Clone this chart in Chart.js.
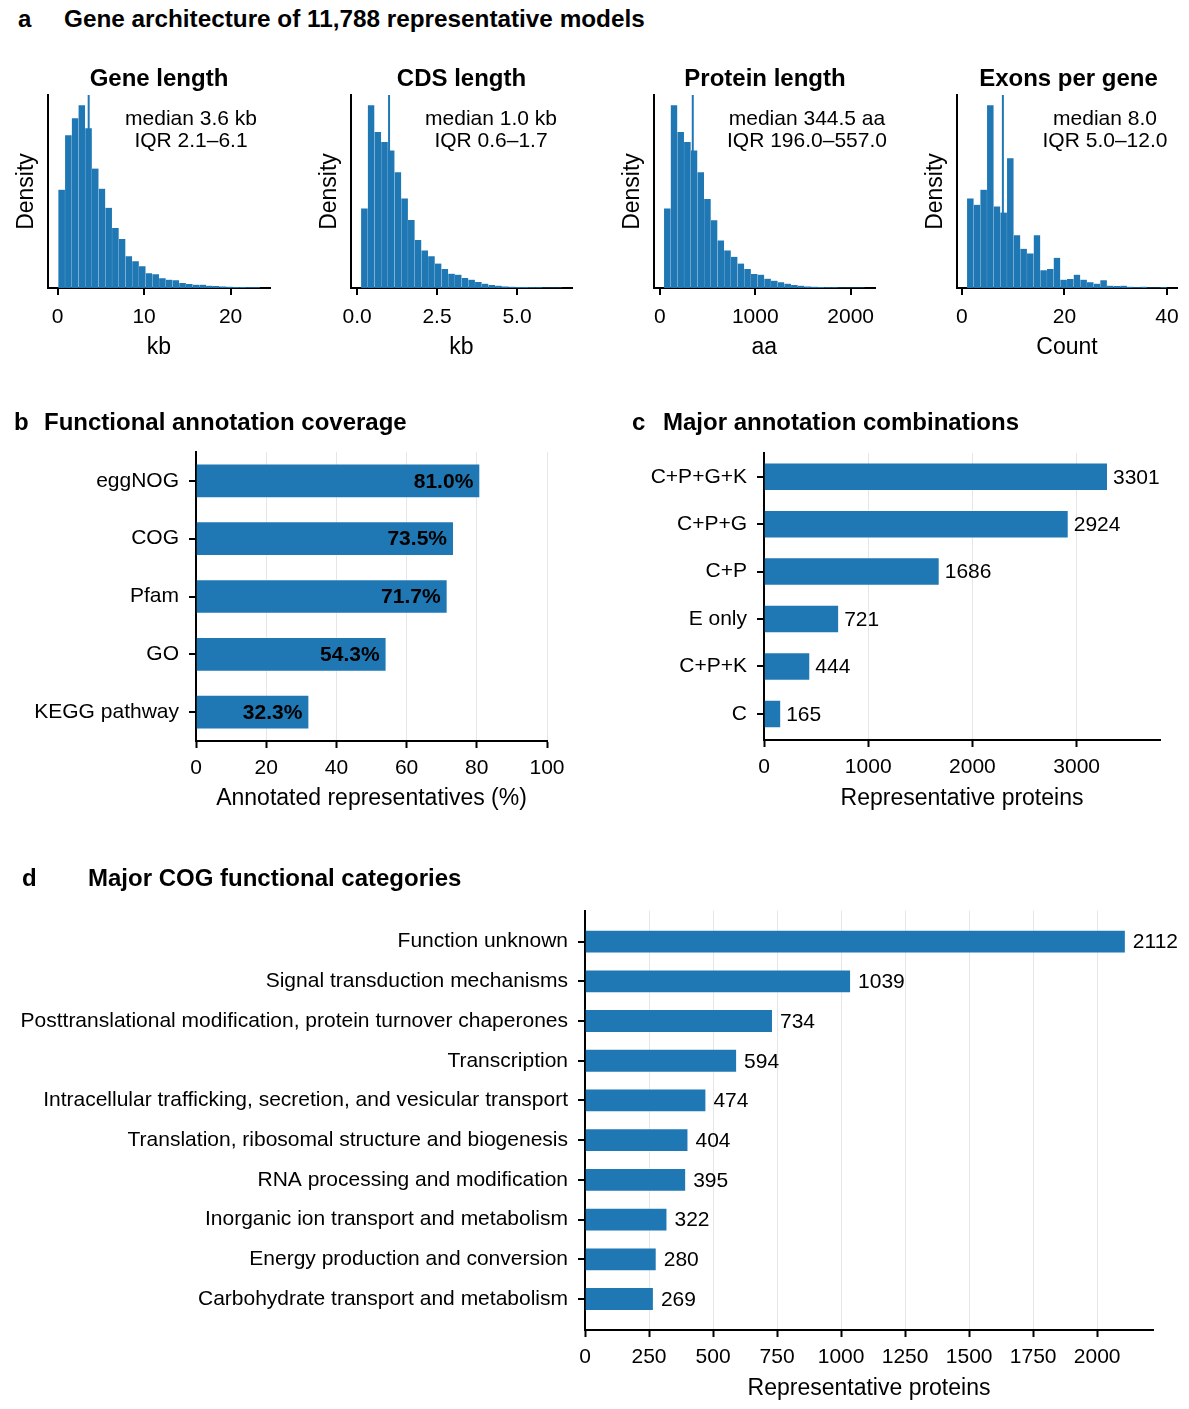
<!DOCTYPE html>
<html>
<head>
<meta charset="utf-8">
<script src="https://cdn.jsdelivr.net/npm/chart.js"></script>
<style>
body { margin: 0; background: #fff; }
#fig { position: relative; width: 1189px; height: 1409px; overflow: hidden; background: #fff;
       font-family: 'Liberation Sans', Arial, Helvetica, sans-serif; color: #000; }
#fig canvas { position: absolute; }
.t { position: absolute; white-space: nowrap; z-index: 2; }
.head { font-weight: bold; font-size: 24px; line-height: 28px; }
.note { font-size: 21px; line-height: 22px; text-align: center; width: 240px; }
</style>
</head>
<body>
<div id="fig">
  <div class="t head" style="left:18px;top:5px">a</div>
  <div class="t head" style="left:64px;top:5px;font-size:24.3px">Gene architecture of 11,788 representative models</div>
  <div class="t head" style="left:14px;top:408px">b</div>
  <div class="t head" style="left:44px;top:408px">Functional annotation coverage</div>
  <div class="t head" style="left:632px;top:408px">c</div>
  <div class="t head" style="left:663px;top:408px">Major annotation combinations</div>
  <div class="t head" style="left:22px;top:864px">d</div>
  <div class="t head" style="left:88px;top:864px">Major COG functional categories</div>
</div>
<script>
// ---- panel a: histograms (relative bar heights) ----
const geneBinStart = 0.09, geneBinWidth = 0.776;
const geneDensity = [293, 455, 506, 545, 476, 356, 296, 239, 179, 146, 95, 80, 65, 44, 41,
                     29, 25, 23, 15, 12, 10, 10, 7, 6, 5, 4, 3, 3, 2, 2];
const geneMedian = 3.6, geneIQR = [2.1, 6.1];
const geneTicks = [0, 10, 20];
const geneTickLabels = ['0', '10', '20'];

const cdsBinStart = 0.124, cdsBinWidth = 0.2096;
const cdsDensity = [237, 545, 465, 435, 410, 345, 267, 203, 143, 112, 95, 73, 57, 43, 40,
                    30, 25, 18, 13, 9, 7, 5, 4, 3, 3, 2, 2, 1, 1, 1];
const cdsMedian = 1.0, cdsIQR = [0.6, 1.7];
const cdsTicks = [0, 2.5, 5];
const cdsTickLabels = ['0.0', '2.5', '5.0'];

const protBinStart = 42.6, protBinWidth = 70.1;
const protDensity = [237, 545, 465, 435, 410, 345, 265, 202, 142, 112, 93, 73, 57, 42, 40,
                     28, 22, 17, 13, 9, 7, 5, 4, 3, 2, 2, 1, 1, 1, 1];
const protMedian = 344.5, protIQR = [196.0, 557.0];
const protTicks = [0, 1000, 2000];
const protTickLabels = ['0', '1000', '2000'];

const exonBinStart = 1, exonBinWidth = 1.3;
const exonDensity = [267, 248, 293, 545, 243, 225, 387, 157, 117, 103, 157, 53, 57, 90, 25,
                     27, 40, 25, 17, 13, 23, 7, 6, 7, 4, 2, 4, 1, 1, 2];
const exonMedian = 8.0, exonIQR = [5.0, 12.0];
const exonTicks = [0, 20, 40];
const exonTickLabels = ['0', '20', '40'];

// ---- panel b ----
const coverageCats = ['eggNOG', 'COG', 'Pfam', 'GO', 'KEGG pathway'];
const coverageVals = [81.0, 73.5, 71.7, 54.3, 32.3];
const coverageTicks = [0, 20, 40, 60, 80, 100];

// ---- panel c ----
const comboCats = ['C+P+G+K', 'C+P+G', 'C+P', 'E only', 'C+P+K', 'C'];
const comboVals = [3301, 2924, 1686, 721, 444, 165];
const comboTicks = [0, 1000, 2000, 3000];

// ---- panel d ----
const cogCats = [
  'Function unknown',
  'Signal transduction mechanisms',
  'Posttranslational modification, protein turnover chaperones',
  'Transcription',
  'Intracellular trafficking, secretion, and vesicular transport',
  'Translation, ribosomal structure and biogenesis',
  'RNA processing and modification',
  'Inorganic ion transport and metabolism',
  'Energy production and conversion',
  'Carbohydrate transport and metabolism'
];
const cogVals = [2112, 1039, 734, 594, 474, 404, 395, 322, 280, 269];
const cogTicks = [0, 250, 500, 750, 1000, 1250, 1500, 1750, 2000];

const FONT = "'Liberation Sans', Arial, Helvetica, sans-serif";
const BLUE = '#1f77b4';
Chart.defaults.font.family = FONT;
Chart.defaults.font.size = 21;
Chart.defaults.color = '#000';

const fig = document.getElementById('fig');

function addCanvas(x, y, w, h) {
  const c = document.createElement('canvas');
  c.width = w; c.height = h;
  c.style.cssText = `left:${x}px;top:${y}px;width:${w}px;height:${h}px`;
  fig.appendChild(c);
  return c;
}

function addText(cls, html, x, y, extra) {
  const d = document.createElement('div');
  d.className = 't ' + cls;
  d.innerHTML = html;
  d.style.left = x + 'px';
  d.style.top = y + 'px';
  if (extra) Object.assign(d.style, extra);
  fig.appendChild(d);
}

// values next to / inside horizontal bars
const valueLabels = {
  id: 'valueLabels',
  afterDatasetsDraw(chart, args, opts) {
    if (!opts || !opts.show) return;
    const ctx = chart.ctx;
    const meta = chart.getDatasetMeta(0);
    const data = chart.data.datasets[0].data;
    ctx.save();
    ctx.font = (opts.bold ? 'bold ' : '') + '21px ' + FONT;
    ctx.fillStyle = '#000';
    ctx.textBaseline = 'middle';
    meta.data.forEach((bar, i) => {
      const txt = opts.format(data[i].x);
      if (opts.inside) {
        ctx.textAlign = 'right';
        ctx.fillText(txt, bar.x - opts.offset, bar.y + 1);
      } else {
        ctx.textAlign = 'left';
        ctx.fillText(txt, bar.x + opts.offset, bar.y + 1);
      }
    });
    ctx.restore();
  }
};
Chart.register(valueLabels);

// ---------- histograms ----------
const HIST_TOP = 95, HIST_BOTTOM = 288;
const histPanels = [
  { title: 'Gene length', xTitle: 'kb', unit: ' kb', start: geneBinStart, width: geneBinWidth,
    density: geneDensity, median: geneMedian, iqr: geneIQR, ticks: geneTicks, tickLabels: geneTickLabels,
    xMin: -1.1, xMax: 24.55, left: 48, right: 270, noteX: 191 },
  { title: 'CDS length', xTitle: 'kb', unit: ' kb', start: cdsBinStart, width: cdsBinWidth,
    density: cdsDensity, median: cdsMedian, iqr: cdsIQR, ticks: cdsTicks, tickLabels: cdsTickLabels,
    xMin: -0.19, xMax: 6.72, left: 351, right: 572, noteX: 491 },
  { title: 'Protein length', xTitle: 'aa', unit: ' aa', start: protBinStart, width: protBinWidth,
    density: protDensity, median: protMedian, iqr: protIQR, ticks: protTicks, tickLabels: protTickLabels,
    xMin: -62, xMax: 2250, left: 654, right: 876, noteX: 807 },
  { title: 'Exons per gene', xTitle: 'Count', unit: '', start: exonBinStart, width: exonBinWidth,
    density: exonDensity, median: exonMedian, iqr: exonIQR, ticks: exonTicks, tickLabels: exonTickLabels,
    xMin: -0.95, xMax: 41.95, left: 957, right: 1180, noteX: 1105 }
];

function drawHist(p) {
  const W = 48, PT = 10, PR = 9, H = 75;
  const canvas = addCanvas(p.left - W, HIST_TOP - PT, W + (p.right - p.left) + PR,
                           PT + (HIST_BOTTOM - HIST_TOP) + H);
  const yMax = Math.max(...p.density) * 1.055;

  new Chart(canvas, {
    type: 'bar',
    data: {
      datasets: [
        {
          type: 'line',
          data: [{ x: p.median, y: 0 }, { x: p.median, y: yMax }],
          borderColor: BLUE, borderWidth: 2, pointRadius: 0, order: 0
        },
        {
          data: p.density.map((d, i) => ({ x: p.start + (i + 0.5) * p.width, y: d })),
          backgroundColor: BLUE,
          borderColor: 'rgba(255,255,255,0.08)',
          borderWidth: 0.4,
          barPercentage: 1, categoryPercentage: 1, order: 1
        }
      ]
    },
    options: {
      responsive: false,
      animation: false,
      layout: { padding: { top: PT, right: PR, left: 0, bottom: 0 } },
      plugins: { legend: { display: false }, tooltip: { enabled: false } },
      scales: {
        x: {
          type: 'linear', min: p.xMin, max: p.xMax, offset: false,
          afterBuildTicks: s => { s.ticks = p.ticks.map(v => ({ value: v })); },
          afterFit: s => { s.height = H; },
          ticks: { callback: (v, i) => p.tickLabels[i], padding: 10, maxRotation: 0, autoSkip: false },
          grid: { display: true, offset: false, drawOnChartArea: false, color: '#000', lineWidth: 2, tickLength: 7 },
          border: { display: true, color: '#000', width: 2 },
          title: { display: true, text: p.xTitle, font: { size: 23 }, padding: { top: 0, bottom: 2 } }
        },
        y: {
          type: 'linear', min: 0, max: yMax,
          afterFit: s => { s.width = W; },
          ticks: { display: false },
          grid: { display: false },
          border: { display: true, color: '#000', width: 2 },
          title: { display: true, text: 'Density', font: { size: 23 }, padding: { top: 13, bottom: 0 } }
        }
      }
    }
  });

  const cx = (p.left + p.right) / 2;
  addText('head', p.title, cx - 150, 64, { width: '300px', textAlign: 'center' });
  const f = v => v.toFixed(1);
  addText('note', `median ${f(p.median)}${p.unit}<br>IQR ${f(p.iqr[0])}–${f(p.iqr[1])}`,
          p.noteX - 120, 107);
}

histPanels.forEach(drawHist);

// ---------- horizontal bar panels ----------
function drawHBar(p) {
  const W = p.left - p.canvasLeft;
  const canvas = addCanvas(p.canvasLeft, p.top - p.PT, W + (p.right - p.left) + p.PR,
                           p.PT + (p.bottom - p.top) + p.H);
  new Chart(canvas, {
    type: 'bar',
    data: {
      datasets: [{
        data: p.vals.map((v, i) => ({ x: v, y: i })),
        backgroundColor: BLUE,
        borderColor: 'rgba(255,255,255,0.3)',
        borderWidth: 1,
        barPercentage: 0.6, categoryPercentage: 1
      }]
    },
    options: {
      indexAxis: 'y',
      responsive: false,
      animation: false,
      layout: { padding: { top: p.PT, right: p.PR, left: 0, bottom: 0 } },
      plugins: {
        legend: { display: false }, tooltip: { enabled: false },
        valueLabels: { show: true, inside: p.inside, bold: p.inside, offset: p.labelOffset, format: p.format }
      },
      scales: {
        x: {
          type: 'linear', min: 0, max: p.xMax,
          afterBuildTicks: s => { s.ticks = p.ticks.map(v => ({ value: v })); },
          afterFit: s => { s.height = p.H; },
          ticks: { callback: v => String(v), padding: 8, maxRotation: 0, autoSkip: false },
          grid: { display: true, color: '#e6e6e6', lineWidth: 1, tickColor: '#000', tickWidth: 2, tickLength: 7 },
          border: { display: true, color: '#000', width: 2 },
          title: { display: true, text: p.xTitle, font: { size: 23 }, padding: { top: 0, bottom: p.titlePB } }
        },
        y: {
          type: 'linear', reverse: true, min: p.yMin, max: p.yMax, offset: false,
          afterBuildTicks: s => { s.ticks = p.cats.map((c, i) => ({ value: i })); },
          afterFit: s => { s.width = W; },
          ticks: { callback: (v, i) => p.cats[i], padding: 10, autoSkip: false },
          grid: { display: true, offset: false, drawOnChartArea: false, color: '#000', lineWidth: 2, tickLength: 7 },
          border: { display: true, color: '#000', width: 2 }
        }
      }
    }
  });
}

drawHBar({
  cats: coverageCats, vals: coverageVals, ticks: coverageTicks, xMax: 100,
  xTitle: 'Annotated representatives (%)',
  canvasLeft: 0, left: 196, right: 547, top: 452, bottom: 741,
  PT: 25, PR: 40, H: 75, titlePB: 4, yMin: -0.5, yMax: 4.5,
  inside: true, labelOffset: 7, format: v => v.toFixed(1) + '%'
});

drawHBar({
  cats: comboCats, vals: comboVals, ticks: comboTicks, xMax: 3800,
  xTitle: 'Representative proteins',
  canvasLeft: 610, left: 764, right: 1160, top: 453, bottom: 740,
  PT: 25, PR: 29, H: 75, titlePB: 3, yMin: -0.5, yMax: 5.55,
  inside: false, labelOffset: 5, format: v => String(v)
});

drawHBar({
  cats: cogCats, vals: cogVals, ticks: cogTicks, xMax: 2218,
  xTitle: 'Representative proteins',
  canvasLeft: 0, left: 585, right: 1153, top: 908, bottom: 1330,
  PT: 20, PR: 36, H: 75, titlePB: 3, yMin: -0.78, yMax: 9.78,
  inside: false, labelOffset: 7, format: v => String(v)
});
</script>
</body>
</html>
